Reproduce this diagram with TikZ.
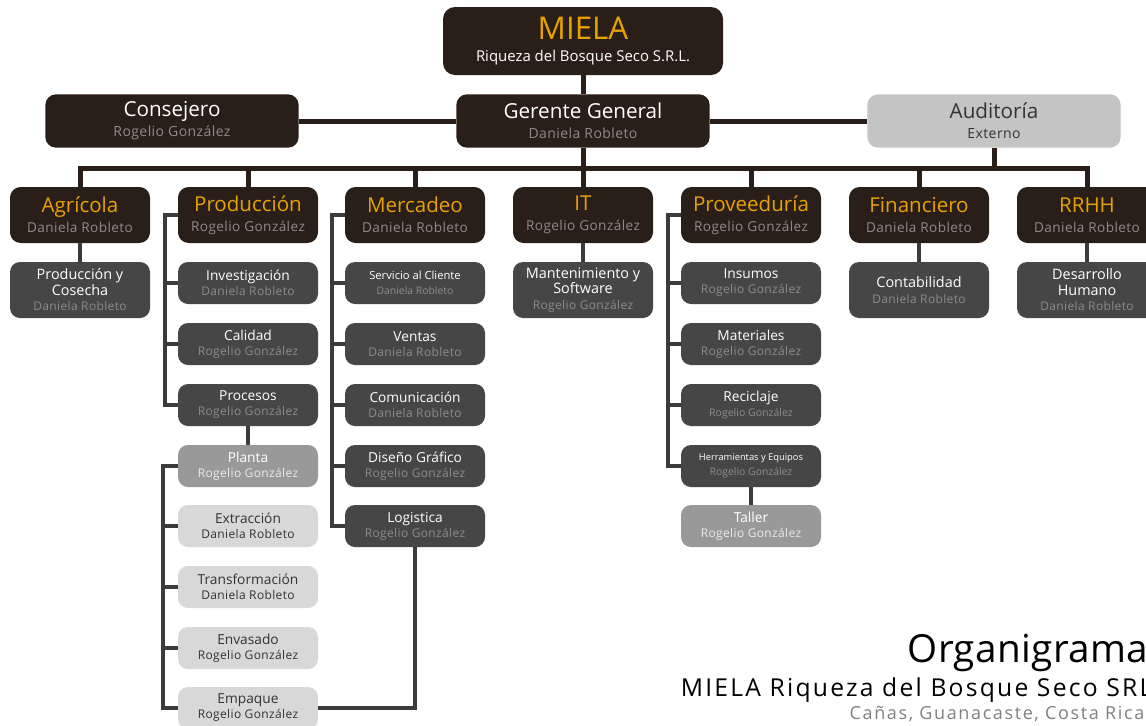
\documentclass[tikz,border=0pt]{standalone}
\usepackage{fontspec}
\setmainfont{Open Sans}
\definecolor{bark}{RGB}{42,31,24}
\definecolor{gold}{RGB}{232,162,0}
\definecolor{slate}{RGB}{70,70,70}
\definecolor{ash}{RGB}{153,153,153}
\definecolor{mist}{RGB}{216,216,216}
\definecolor{fog}{RGB}{196,196,196}
\definecolor{ink}{RGB}{51,51,51}
\definecolor{namegray}{RGB}{140,140,140}
\newcommand\whostyle{}
\newcommand\who[1]{{\whostyle\addfontfeatures{LetterSpace=3}#1}}
\tikzset{
  headbox/.style={fill=bark, text=white, rounded corners=9pt, align=center, inner sep=0pt,
    minimum width=210pt, minimum height=51pt, font=\fontsize{11.2}{17}\selectfont},
  bossbox/.style={fill=bark, text=white, rounded corners=8pt, align=center, inner sep=0pt,
    minimum width=190pt, minimum height=40pt, font=\fontsize{15.5}{15}\selectfont,
    execute at begin node={\def\whostyle{\fontsize{10.5}{11}\selectfont\color{namegray}}}},
  auditbox/.style={bossbox, fill=fog, text=ink,
    execute at begin node={\def\whostyle{\fontsize{10.5}{11}\selectfont\color{ink}}}},
  deptbox/.style={fill=bark, text=gold, rounded corners=8pt, align=center, inner sep=0pt,
    minimum width=105pt, minimum height=42pt, font=\fontsize{15.4}{15}\selectfont,
    execute at begin node={\def\whostyle{\fontsize{10.2}{11}\selectfont\color{namegray}}}},
  unitbox/.style={fill=slate, text=white, rounded corners=7.5pt, align=center, inner sep=0pt,
    minimum width=105pt, minimum height=31.5pt, font=\fontsize{10.3}{11.25}\selectfont,
    execute at begin node={\def\whostyle{\fontsize{9}{9}\selectfont\color{namegray}}}},
  tallbox/.style={unitbox, minimum height=42pt, font=\fontsize{10.8}{11.6}\selectfont},
  plantbox/.style={unitbox, fill=ash,
    execute at begin node={\def\whostyle{\fontsize{9}{9}\selectfont\color{white!92!black}}}},
  lightbox/.style={unitbox, fill=mist, text=ink,
    execute at begin node={\def\whostyle{\fontsize{9}{9}\selectfont\color{ink}}}},
  trunk/.style={draw=bark, line width=3.75pt},
  branch/.style={draw=slate!85!black, line width=3pt}
}
\begin{document}
\begin{tikzpicture}[x=0.75pt,y=-0.75pt]
  \useasboundingbox[fill=white] (0,0) rectangle (1146,725);
  \node[headbox] (miela) at (583,41) {{\fontsize{23.5}{24}\selectfont\color{gold}MIELA}\\Riqueza del Bosque Seco S.R.L.};
  \node[bossbox] (conse) at (172,121) {Consejero\\\who{Rogelio González}};
  \node[bossbox] (geren) at (583,121) {Gerente General\\\who{Daniela Robleto}};
  \node[auditbox] (audit) at (994,121) {Auditoría\\\who{Externo}};
  \foreach \n/\x/\t/\p in {agri/80/Agrícola/Daniela Robleto, prod/248/Producción/Rogelio González,
      merc/415/Mercadeo/Daniela Robleto, it/583/IT/Rogelio González,
      prov/751/Proveeduría/Rogelio González, fin/919/Financiero/Daniela Robleto,
      rrhh/1087/RRHH/Daniela Robleto} {
    \node[deptbox] (\n) at (\x,215) {\t\\\who{\p}};
  }
  \node[tallbox] (cose) at (80,290) {Producción y\\Cosecha\\\who{Daniela Robleto}};
  \node[tallbox] (mant) at (583,290) {Mantenimiento y\\Software\\\who{Rogelio González}};
  \node[tallbox] (conta) at (919,290) {Contabilidad\\\who{Daniela Robleto}};
  \node[tallbox] (desa) at (1087,290) {Desarrollo\\Humano\\\who{Daniela Robleto}};
  \foreach \n/\y/\t/\p in {inve/283/Investigación/Daniela Robleto, cali/344/Calidad/Rogelio González,
      proc/405/Procesos/Rogelio González} {
    \node[unitbox] (\n) at (248,\y) {\t\\\who{\p}};
  }
  \node[plantbox] (plan) at (248,466) {Planta\\\who{Rogelio González}};
  \foreach \n/\y/\t/\p in {extr/526/Extracción/Daniela Robleto, tran/587/Transformación/Daniela Robleto,
      enva/648/Envasado/Rogelio González, empa/708/Empaque/Rogelio González} {
    \node[lightbox] (\n) at (248,\y) {\t\\\who{\p}};
  }
  \node[unitbox] (serv) at (415,283) {{\fontsize{8.4}{8}\selectfont Servicio al Cliente}\\{\fontsize{7.8}{8}\selectfont\color{namegray}Daniela Robleto}};
  \foreach \n/\y/\t/\p in {vent/344/Ventas/Daniela Robleto, comu/405/Comunicación/Daniela Robleto,
      dise/466/Diseño Gráfico/Rogelio González, logi/526/Logistica/Rogelio González} {
    \node[unitbox] (\n) at (415,\y) {\t\\\who{\p}};
  }
  \foreach \n/\y/\t/\p in {insu/283/Insumos/Rogelio González, mate/344/Materiales/Rogelio González} {
    \node[unitbox] (\n) at (751,\y) {\t\\\who{\p}};
  }
  \node[unitbox] (reci) at (751,405) {Reciclaje\\{\fontsize{7.9}{8}\selectfont\color{namegray}Rogelio González}};
  \node[unitbox] (herr) at (751,466) {{\fontsize{7}{8}\selectfont Herramientas y Equipos}\\{\fontsize{7.8}{8}\selectfont\color{namegray}Rogelio González}};
  \node[plantbox] (tall) at (751,526) {Taller\\\who{Rogelio González}};
  \coordinate (bus) at (0,168);
  \coordinate (pb) at (165,0);
  \coordinate (plb) at (163,0);
  \coordinate (mb) at (332,0);
  \coordinate (vb) at (668,0);
  \draw[trunk] (miela) -- (geren);
  \draw[trunk] (conse) -- (geren) -- (audit);
  \draw[trunk] (geren) -- (it);
  \draw[trunk] (agri.north) |- (rrhh.north |- bus) -- (rrhh.north);
  \draw[trunk] (audit) -- (audit |- bus);
  \foreach \n in {prod,merc,prov,fin} {
    \draw[trunk] (\n.north) -- (\n.north |- bus);
  }
  \foreach \a/\b in {agri/cose,it/mant,fin/conta,rrhh/desa,proc/plan,herr/tall} {
    \draw[branch] (\a) -- (\b);
  }
  \draw[branch] (prod.west) -| (pb |- proc.west) -- (proc.west);
  \draw[branch] (merc.west) -| (mb |- logi.west) -- (logi.west);
  \draw[branch] (prov.west) -| (vb |- herr.west) -- (herr.west);
  \draw[branch] (plan.west) -| (plb |- empa.west) -- (empa.west);
  \foreach \n in {inve,cali} \draw[branch] (\n.west) -- (\n.west -| pb);
  \foreach \n in {serv,vent,comu,dise} \draw[branch] (\n.west) -- (\n.west -| mb);
  \foreach \n in {insu,mate,reci} \draw[branch] (\n.west) -- (\n.west -| vb);
  \foreach \n in {extr,tran,enva} \draw[branch] (\n.west) -- (\n.west -| plb);
  \draw[branch] (logi) |- (empa);
  \node[anchor=base east, font=\fontsize{29}{30}\selectfont\addfontfeatures{LetterSpace=1}] (orga) at (1153,662) {Organigrama};
  \node[anchor=base east, font=\fontsize{18.5}{20}\selectfont\addfontfeatures{LetterSpace=9}] (firm) at (1157,696) {MIELA Riqueza del Bosque Seco SRL};
  \node[anchor=base east, font=\fontsize{13.5}{14}\selectfont\addfontfeatures{LetterSpace=9}, text=gray] (place) at (1149,719) {Cañas, Guanacaste, Costa Rica};
\end{tikzpicture}
\end{document}
